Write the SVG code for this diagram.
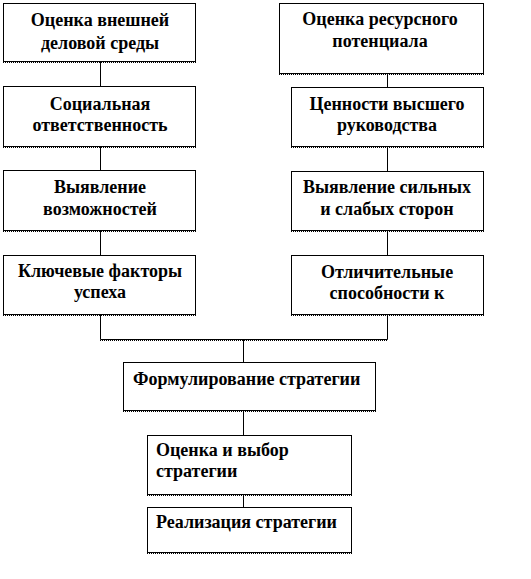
<svg xmlns="http://www.w3.org/2000/svg" width="531" height="579" viewBox="0 0 531 579">
<style>
.box{fill:#fff;stroke:#000;stroke-width:1}
.sh{stroke:#000;stroke-width:1;stroke-dasharray:1,1}
text{font-family:'Liberation Serif','Times New Roman','DejaVu Serif',serif;font-weight:bold;font-size:18px;fill:#000}
.c{text-anchor:middle}
.ln{stroke:#000;stroke-width:1;fill:none}
</style>
<rect width="531" height="579" fill="#fff"/>
<g id="connectors">
<line class="ln" x1="100.5" y1="62" x2="100.5" y2="86"/>
<line class="ln" x1="100.5" y1="147" x2="100.5" y2="170"/>
<line class="ln" x1="100.5" y1="231" x2="100.5" y2="255"/>
<line class="ln" x1="387.5" y1="74" x2="387.5" y2="87"/>
<line class="ln" x1="387.5" y1="147" x2="387.5" y2="171"/>
<line class="ln" x1="387.5" y1="231" x2="387.5" y2="255"/>
<polyline class="ln" points="100.5,315 100.5,339.5 387.5,339.5 387.5,315"/>
<line class="sh" x1="100" y1="340.5" x2="388" y2="340.5"/>
<line class="ln" x1="243.5" y1="339" x2="243.5" y2="362"/>
<line class="ln" x1="243.5" y1="411" x2="243.5" y2="435"/>
<line class="ln" x1="243.5" y1="495" x2="243.5" y2="507"/>
</g>
<g id="n1">
<rect class="box" x="3.5" y="3.5" width="192" height="58"/>
<line class="sh" x1="3" y1="62.5" x2="196" y2="62.5"/>
<text class="c" x="100" y="26" font-family="Liberation Serif, serif">Оценка внешней</text>
<text class="c" x="100" y="49" font-family="Liberation Serif, serif">деловой  среды</text>
</g>
<g id="n2">
<rect class="box" x="3.5" y="86.5" width="192" height="60"/>
<line class="sh" x1="3" y1="147.5" x2="196" y2="147.5"/>
<text class="c" x="100" y="110">Социальная</text>
<text class="c" x="100" y="131">ответственность</text>
</g>
<g id="n3">
<rect class="box" x="3.5" y="170.5" width="192" height="60"/>
<line class="sh" x1="3" y1="231.5" x2="196" y2="231.5"/>
<text class="c" x="100" y="193">Выявление</text>
<text class="c" x="100" y="215">возможностей</text>
</g>
<g id="n4">
<rect class="box" x="3.5" y="255.5" width="192" height="59"/>
<line class="sh" x1="3" y1="315.5" x2="196" y2="315.5"/>
<text class="c" x="100" y="277">Ключевые факторы</text>
<text class="c" x="100" y="298">успеха</text>
</g>
<g id="n5">
<rect class="box" x="279.5" y="3.5" width="204" height="70"/>
<line class="sh" x1="279" y1="74.5" x2="484" y2="74.5"/>
<text class="c" x="380" y="25">Оценка ресурсного</text>
<text class="c" x="380" y="47">потенциала</text>
</g>
<g id="n6">
<rect class="box" x="291.5" y="87.5" width="192" height="59"/>
<line class="sh" x1="291" y1="147.5" x2="484" y2="147.5"/>
<text class="c" x="387" y="110">Ценности высшего</text>
<text class="c" x="387" y="131">руководства</text>
</g>
<g id="n7">
<rect class="box" x="291.5" y="171.5" width="192" height="59"/>
<line class="sh" x1="291" y1="231.5" x2="484" y2="231.5"/>
<text class="c" x="387" y="193">Выявление сильных</text>
<text class="c" x="387" y="215">и слабых сторон</text>
</g>
<g id="n8">
<rect class="box" x="291.5" y="255.5" width="192" height="59"/>
<line class="sh" x1="291" y1="315.5" x2="484" y2="315.5"/>
<text class="c" x="387" y="278">Отличительные</text>
<text class="c" x="387" y="299">способности к</text>
</g>
<g id="n9">
<rect class="box" x="123.5" y="362.5" width="252" height="48"/>
<line class="sh" x1="123" y1="411.5" x2="376" y2="411.5"/>
<text x="133" y="385">Формулирование стратегии</text>
</g>
<g id="n10">
<rect class="box" x="147.5" y="435.5" width="204" height="59"/>
<line class="sh" x1="147" y1="495.5" x2="352" y2="495.5"/>
<text x="156" y="456">Оценка и выбор</text>
<text x="156" y="477">стратегии</text>
</g>
<g id="n11">
<rect class="box" x="147.5" y="507.5" width="204" height="45"/>
<line class="sh" x1="147" y1="553.5" x2="352" y2="553.5"/>
<text x="156" y="528">Реализация стратегии</text>
</g>
</svg>
